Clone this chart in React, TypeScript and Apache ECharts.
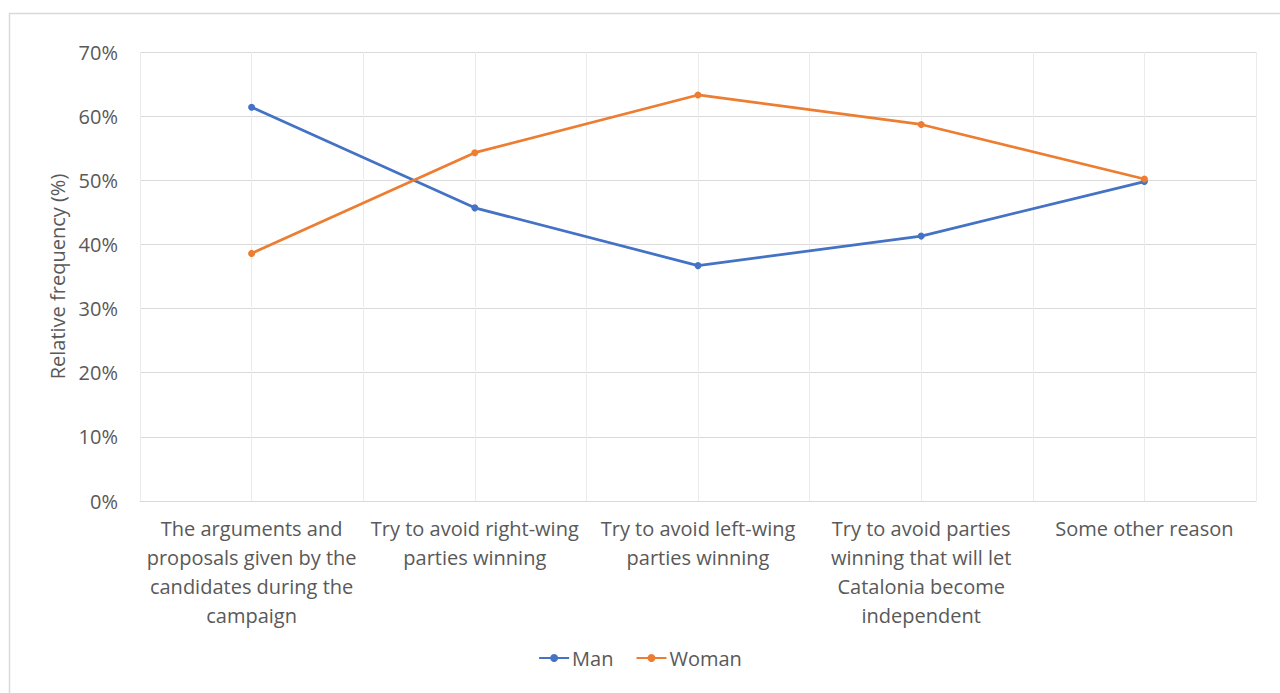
import React, { useEffect, useRef } from "react";
import * as echarts from "echarts";

const categories = [
  "The arguments and\nproposals given by the\ncandidates during the\ncampaign",
  "Try to avoid right-wing\nparties winning",
  "Try to avoid left-wing\nparties winning",
  "Try to avoid parties\nwinning that will let\nCatalonia become\nindependent",
  "Some other reason",
];
const man = [61.4, 45.7, 36.7, 41.3, 49.8];
const woman = [38.6, 54.3, 63.3, 58.7, 50.2];
const yTicks = [0, 10, 20, 30, 40, 50, 60, 70];

const FONT = "'Open Sans', 'Noto Sans', sans-serif";

export default function App() {
  const ref = useRef<HTMLDivElement>(null);
  useEffect(() => {
    if (!ref.current) return;
    const chart = echarts.init(ref.current, undefined, { renderer: "svg" });
    chart.setOption({
      animation: false,
      backgroundColor: "#ffffff",
      textStyle: { fontFamily: FONT },
      graphic: [
        {
          type: "rect",
          shape: { x: 9.5, y: 13.5, width: 1300, height: 700 },
          style: { fill: "none", stroke: "#d9d9d9", lineWidth: 1.5 },
          silent: true,
        },
      ],
      grid: { left: 140, right: 24, top: 52, bottom: 192 },
      legend: {
        bottom: 20,
        left: "center",
        itemWidth: 30,
        itemHeight: 10,
        itemGap: 22,
        textStyle: { fontSize: 20, color: "#595959", fontFamily: FONT, padding: [0, 0, 0, -2] },
        data: ["Man", "Woman"],
      },
      xAxis: {
        type: "value",
        min: -0.5,
        max: 4.5,
        interval: 0.5,
        axisLine: { show: true, lineStyle: { color: "#d9d9d9", width: 1 } },
        axisTick: { show: false },
        splitLine: { show: true, lineStyle: { color: "#ebebeb", width: 1 } },
        axisLabel: {
          margin: 13,
          fontSize: 20,
          lineHeight: 29,
          color: "#595959",
          fontFamily: FONT,
          formatter: (v: number) =>
            Number.isInteger(v) && v >= 0 && v < categories.length ? categories[v] : "",
        },
      },
      yAxis: {
        type: "value",
        min: 0,
        max: 70,
        interval: 10,
        name: "Relative frequency (%)",
        nameLocation: "middle",
        nameGap: 70,
        nameTextStyle: { fontSize: 20, color: "#595959", fontFamily: FONT },
        axisLine: { show: false },
        axisTick: { show: false },
        splitLine: { lineStyle: { color: "#d9d9d9", width: 1 } },
        axisLabel: {
          margin: 22,
          fontSize: 20,
          color: "#595959",
          fontFamily: FONT,
          formatter: (v: number) => (yTicks.includes(v) ? v + "%" : ""),
        },
      },
      series: [
        {
          name: "Man",
          type: "line",
          data: man.map((v, i) => [i, v]),
          symbol: "circle",
          symbolSize: 7,
          lineStyle: { width: 2.75, color: "#4472C4" },
          itemStyle: { color: "#4472C4" },
        },
        {
          name: "Woman",
          type: "line",
          data: woman.map((v, i) => [i, v]),
          symbol: "circle",
          symbolSize: 7,
          lineStyle: { width: 2.75, color: "#ED7D31" },
          itemStyle: { color: "#ED7D31" },
        },
      ],
    });
    return () => chart.dispose();
  }, []);
  return (
    <div
      ref={ref}
      style={{ position: "fixed", left: 0, top: 0, width: 1280, height: 693 }}
    />
  );
}
